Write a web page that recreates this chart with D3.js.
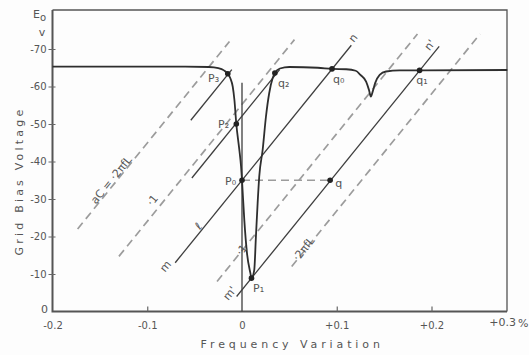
<!DOCTYPE html>
<html>
<head>
<meta charset="utf-8">
<script src="https://cdn.jsdelivr.net/npm/d3@7"></script>
<style>
  body { margin:0; background:#fdfdfd; }
  svg { font-family: "DejaVu Sans", sans-serif; }
  .solid { stroke:#3e3e3e; stroke-width:1.3; fill:none; }
  .dash { stroke:#9c9c9c; stroke-width:1.7; stroke-dasharray:8,5; fill:none; }
  .curve { stroke:#2e2e2e; stroke-width:1.8; fill:none; }
  .frame { stroke:#555; fill:none; }
  .lbl { fill:#555; font-size:11px; }
  .tick text { fill:#555; font-size:10px; font-family:"DejaVu Sans", sans-serif; }
  .tick line { stroke:#666; }
  .domain { display:none; }
</style>
</head>
<body>
<svg id="plot" width="529" height="355"></svg>
<script>
// frequency variation (fraction) and grid bias magnitude (volts)
var xTicks = [-0.2, -0.1, 0, 0.1, 0.2];
var xTickLabels = ["-0.2", "-0.1", "0", "+0.1", "+0.2"];
var xEndLabel = "+0.3";
var yTicks = [10, 20, 30, 40, 50, 60, 70];
var yTickLabels = ["-10", "-20", "-30", "-40", "-50", "-60", "-70"];

// resonance curve of grid bias vs frequency
var curveX = [-0.2, -0.06, -0.035, -0.025, -0.019, -0.015, -0.0123, -0.0098, -0.008, -0.006,
  -0.0028, -0.001, 0, 0.0024, 0.0052, 0.0088, 0.010, 0.0129, 0.0147, 0.0165,
  0.0182, 0.0218, 0.0253, 0.0287, 0.0323, 0.0347, 0.040, 0.05, 0.08, 0.095,
  0.11, 0.12, 0.125, 0.131, 0.134, 0.136, 0.138, 0.1405, 0.1453, 0.152,
  0.1663, 0.1874, 0.28];
var curveY = [65.3, 65.3, 65.2, 64.9, 64.3, 63.4, 62.2, 60, 56.4, 50,
  43.1, 38.7, 35, 24.5, 15.7, 10.3, 8.9, 11, 20, 28.9,
  36, 43.1, 52, 58.2, 62.2, 63.6, 64.8, 65.2, 65, 64.7,
  64.6, 64.2, 63.1, 61.3, 59.1, 57.3, 58.7, 60.9, 63.1, 64,
  64.3, 64.3, 64.4];

// parallel load lines: volts per unit frequency, x-intercepts and extents
var slope = 312;
var solidX0 = [-0.1122, -0.0185, -0.167, -0.2175];
var solidFrom = [13, 4, 35.6, 51];
var solidTo = [71, 70.7, 64.5, 64.5];
var dashX0 = [-0.244, -0.177, -0.052, 0.014];
var dashFrom = [22, 14.7, 8, 12];
var dashTo = [72, 72.5, 74, 74];

// marked points
var ptNames = ["P₃", "P₂", "P₀", "P₁", "q₂", "q₀", "q₁", "q"];
var ptX = [-0.015, -0.006, 0, 0.010, 0.0347, 0.095, 0.1874, 0.093];
var ptY = [63.4, 50, 35, 8.9, 63.6, 64.7, 64.3, 35];
var ptLabX = [-0.030, -0.0195, -0.012, 0.0175, 0.044, 0.102, 0.190, 0.102];
var ptLabY = [62.3, 50, 34.8, 6.3, 60.9, 62, 61.7, 34.3];

// line annotations (rotated along the lines)
var noteText = ["n", "n'", "m", "m'", "ℓ", "·1", "·1", "aC = ·2πfL", "·2πfL"];
var noteX = [0.117, 0.198, -0.081, -0.013, -0.046, -0.0947, -0.0005, -0.138, 0.065];
var noteY = [73, 71.1, 12.1, 4.9, 22.8, 29.7, 16.4, 35.1, 16.7];

var svg = d3.select("#plot");
var x = d3.scaleLinear().domain([-0.2, 0.2]).range([52.5, 431.5]);
var xMax = x.invert(507);
var y = d3.scaleLinear().domain([0, 80.4]).range([311.5, 10]);

// frame
svg.append("path").attr("class", "frame").attr("stroke-width", 1.3)
  .attr("d", "M" + x(-0.2) + "," + y(80.4) + "H" + x(xMax) + "V" + y(0));
svg.append("path").attr("class", "frame").attr("stroke-width", 2)
  .attr("d", "M" + x(-0.2) + "," + y(80.4) + "V" + y(0) + "H" + x(xMax));

// axes
var yAxis = d3.axisLeft(y).tickValues(yTicks)
  .tickFormat(function(d, i) { return yTickLabels[i]; })
  .tickSizeInner(4).tickSizeOuter(0).tickPadding(2);
var gy = svg.append("g").attr("transform", "translate(" + x(-0.2) + ",0)").call(yAxis);
gy.selectAll(".tick line").attr("x2", 3).attr("x1", -4);

var xAxis = d3.axisBottom(x).tickValues(xTicks)
  .tickFormat(function(d, i) { return xTickLabels[i]; })
  .tickSizeInner(-5).tickSizeOuter(0).tickPadding(10);
var gx = svg.append("g").attr("transform", "translate(0," + y(0) + ")").call(xAxis);
gx.selectAll(".tick line").attr("stroke-width", 1.2);
gx.selectAll(".tick").filter(function(d) { return d === -0.2 || d === 0; })
  .select("line").remove();

svg.append("text").attr("class", "lbl").attr("font-size", 9.5)
  .attr("x", x(xMax) + 9).attr("y", y(0) + 14).attr("text-anchor", "end").text(xEndLabel);
svg.append("text").attr("class", "lbl").attr("font-size", 11)
  .attr("x", x(xMax) + 11).attr("y", y(0) + 15).attr("text-anchor", "start").text("%");
svg.append("text").attr("class", "lbl").attr("font-size", 10)
  .attr("x", x(-0.2) - 8).attr("y", y(0) + 1).attr("text-anchor", "middle").text("0");
var e0 = svg.append("text").attr("class", "lbl").attr("font-size", 15)
  .attr("x", 33).attr("y", 18);
e0.append("tspan").text("E");
e0.append("tspan").attr("font-size", 10).attr("dy", 3).text("o");
svg.append("text").attr("class", "lbl").attr("font-size", 10)
  .attr("x", 42).attr("y", 36).attr("text-anchor", "middle").text("v");

// axis titles
svg.append("text").attr("class", "lbl").attr("font-size", 14)
  .attr("letter-spacing", 3.2).attr("text-anchor", "middle")
  .attr("transform", "translate(23," + y(34.8) + ") rotate(-90)")
  .text("Grid Bias Voltage");
svg.append("text").attr("class", "lbl").attr("font-size", 17)
  .attr("letter-spacing", 3.9).attr("text-anchor", "middle")
  .attr("x", x(0.053)).attr("y", 348).text("Frequency Variation");

// load lines
function lineAt(x0, v) { return [x(x0 + v / slope), y(v)]; }
var seg = d3.line();
svg.selectAll(".dash").data(dashX0).enter().append("path").attr("class", "dash")
  .attr("d", function(d, i) { return seg([lineAt(d, dashFrom[i]), lineAt(d, dashTo[i])]); });
svg.selectAll(".solid.load").data(solidX0).enter().append("path").attr("class", "solid load")
  .attr("d", function(d, i) { return seg([lineAt(d, solidFrom[i]), lineAt(d, solidTo[i])]); });

// vertical reference at zero frequency variation
svg.append("line").attr("class", "solid").attr("stroke-width", 1)
  .attr("x1", x(0)).attr("x2", x(0)).attr("y1", y(0)).attr("y2", y(61));

// horizontal dotted from P0 to q
svg.append("line").attr("class", "dash").attr("stroke-width", 1.3).attr("stroke-dasharray", "5,4")
  .attr("x1", x(ptX[2])).attr("x2", x(ptX[7])).attr("y1", y(ptY[2])).attr("y2", y(ptY[7]));

// resonance curve
svg.append("path").attr("class", "curve")
  .attr("d", d3.line().curve(d3.curveMonotoneX)
    .x(function(d, i) { return x(d); })
    .y(function(d, i) { return y(curveY[i]); })(curveX));

// points
svg.selectAll(".pt").data(ptX).enter().append("circle").attr("class", "pt")
  .attr("cx", function(d) { return x(d); })
  .attr("cy", function(d, i) { return y(ptY[i]); })
  .attr("r", 2.8).attr("fill", "#222");
svg.selectAll(".ptl").data(ptNames).enter().append("text").attr("class", "lbl ptl")
  .attr("text-anchor", "middle").attr("dy", "0.35em")
  .attr("x", function(d, i) { return x(ptLabX[i]); })
  .attr("y", function(d, i) { return y(ptLabY[i]); })
  .text(function(d) { return d; });

svg.selectAll(".note").data(noteText).enter().append("text").attr("class", "lbl note")
  .attr("text-anchor", "middle").attr("dy", "0.35em")
  .attr("transform", function(d, i) {
    return "translate(" + x(noteX[i]) + "," + y(noteY[i]) + ") rotate(-51)";
  })
  .text(function(d) { return d; });
</script>
</body>
</html>
